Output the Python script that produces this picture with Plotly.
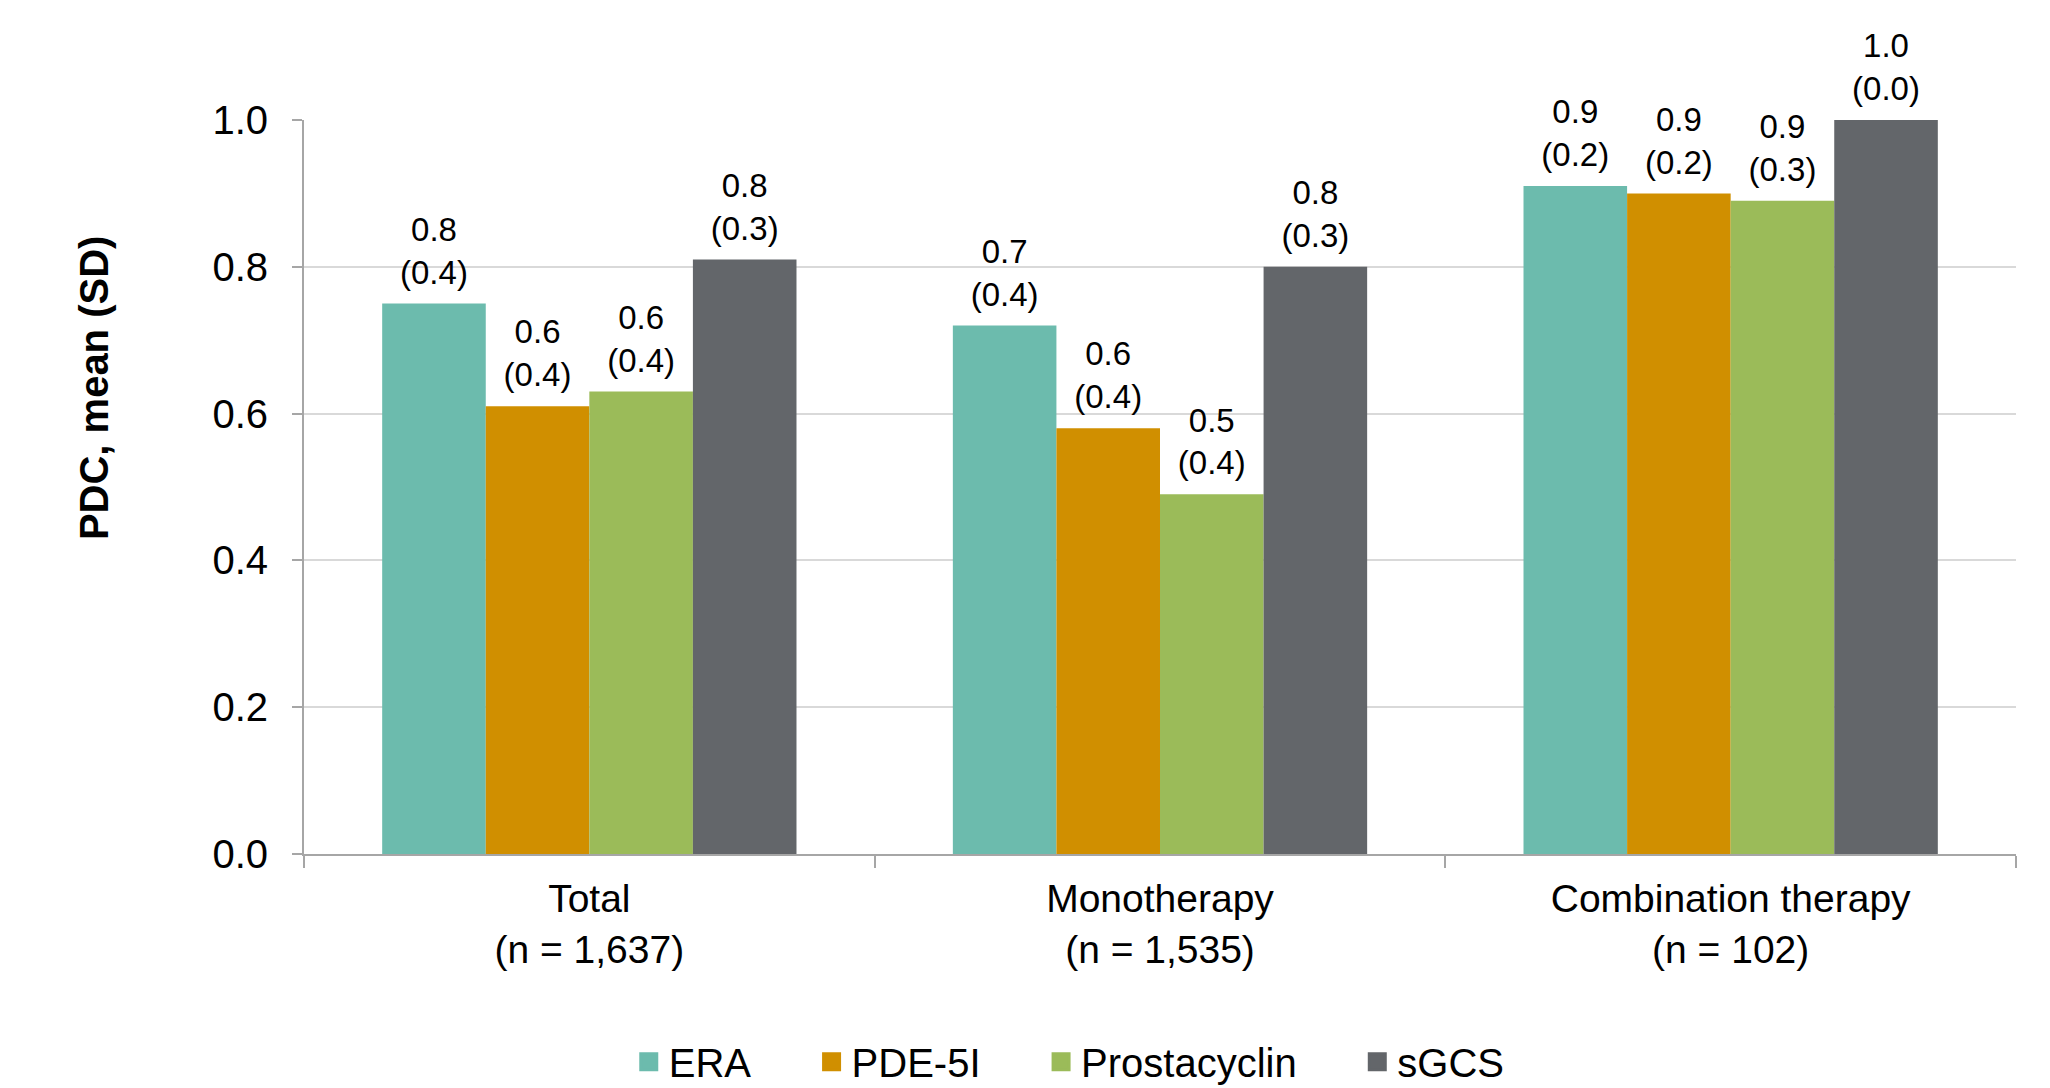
import plotly.graph_objects as go

categories = ["Total<br>(n = 1,637)", "Monotherapy<br>(n = 1,535)", "Combination therapy<br>(n = 102)"]
series_names = ["ERA", "PDE-5I", "Prostacyclin", "sGCS"]
era_mean = [0.75, 0.72, 0.91]
pde_mean = [0.61, 0.58, 0.90]
prosta_mean = [0.63, 0.49, 0.89]
sgcs_mean = [0.81, 0.80, 1.00]
era_sd = [0.4, 0.4, 0.2]
pde_sd = [0.4, 0.4, 0.2]
prosta_sd = [0.4, 0.4, 0.3]
sgcs_sd = [0.3, 0.3, 0.0]
colors = ["#6CBBAD", "#D08F00", "#9BBB59", "#63666A"]
y_ticks = [0.0, 0.2, 0.4, 0.6, 0.8, 1.0]

means = [era_mean, pde_mean, prosta_mean, sgcs_mean]
sds = [era_sd, pde_sd, prosta_sd, sgcs_sd]

FONT = "Liberation Sans, Arial, sans-serif"
NB = "\u00a0"
pads = [NB * 5, NB * 5, NB * 5, ""]
GAP = 0.274

fig = go.Figure()
for i, (name, m, s, c) in enumerate(zip(series_names, means, sds, colors)):
    fig.add_trace(go.Bar(
        x=categories, y=m, name=name, showlegend=False,
        offsetgroup=str(i), alignmentgroup="a",
        marker=dict(color=c, line=dict(width=0)),
        hoverinfo="skip",
    ))
# value labels, grouped like the bars
for i, (name, m, s) in enumerate(zip(series_names, means, sds)):
    fig.add_trace(go.Scatter(
        x=categories, y=m, customdata=s, mode="markers+text", showlegend=False,
        offsetgroup=str(i), alignmentgroup="a",
        marker=dict(size=17, opacity=0, color="white"),
        texttemplate="%{y:.1f}<br>(%{customdata:.1f})",
        textposition="top center", cliponaxis=False,
        textfont=dict(family=FONT, size=33, color="#000000"),
        hoverinfo="skip",
    ))
# legend entries
for name, c, p in zip(series_names, colors, pads):
    fig.add_trace(go.Scatter(
        x=[None], y=[None], mode="markers", name=name + p, showlegend=True,
        marker=dict(symbol="square", size=16, color=c, line=dict(width=3, color=c)),
    ))

fig.update_layout(
    width=2042, height=1080,
    margin=dict(l=296, r=34, t=112, b=234, autoexpand=False),
    paper_bgcolor="white", plot_bgcolor="white",
    barmode="group", bargap=GAP, bargroupgap=0,
    scattermode="group", scattergap=GAP,
    font=dict(family=FONT, size=40, color="#000000"),
    showlegend=True,
    legend=dict(orientation="h", x=0.447, xanchor="center", y=-0.283, yanchor="middle",
                font=dict(family=FONT, size=40, color="#000000"), itemwidth=30,
                traceorder="normal"),
)
fig.update_xaxes(
    showline=True, linecolor="#A6A6A6", linewidth=2,
    ticks="outside", tickson="boundaries", ticklen=12, tickcolor="#A6A6A6", tickwidth=2,
    tickfont=dict(family=FONT, size=39, color="#000000"), showgrid=False,
    ticklabelstandoff=9,
)
fig.update_yaxes(
    range=[0, 1], tickvals=y_ticks, ticktext=[f"{v:.1f}" for v in y_ticks],
    showline=True, linecolor="#A6A6A6", linewidth=2,
    ticks="outside", ticklen=10, tickcolor="#A6A6A6", tickwidth=2,
    showgrid=True, gridcolor="#D9D9D9", gridwidth=2, zeroline=False,
    tickfont=dict(family=FONT, size=40, color="#000000"),
    ticklabelstandoff=16,
)
fig.add_annotation(
    text="<b>PDC, mean (SD)</b>", textangle=-90, xref="paper", yref="paper",
    x=-0.1227, y=0.636, xanchor="center", yanchor="middle", showarrow=False,
    font=dict(family=FONT, size=40, color="#000000"),
)
fig.write_html("out.html")
